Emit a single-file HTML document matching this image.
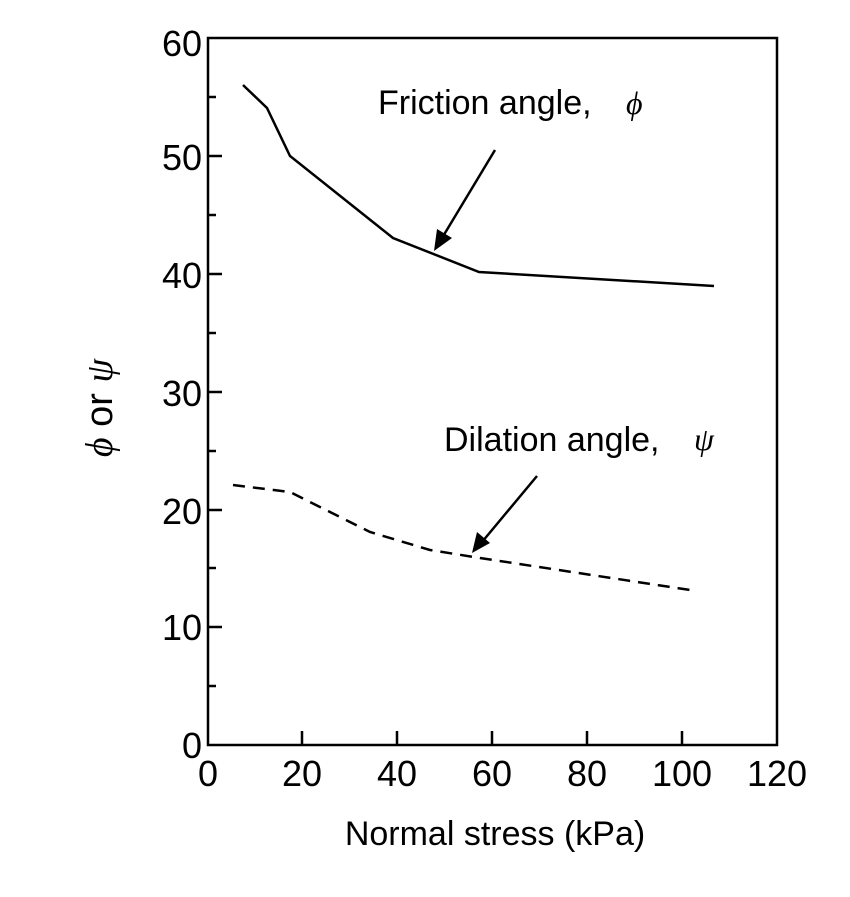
<!DOCTYPE html>
<html><head><style>body{margin:0;background:#fff}</style></head><body>
<svg width="850" height="892" xmlns="http://www.w3.org/2000/svg" font-family="Liberation Sans, sans-serif">
<rect width="850" height="892" fill="#fff"/>
<g stroke="#000" stroke-width="2.5" fill="none">
<rect x="208" y="38" width="569" height="707"/>
<path d="M208 627h14M208 510h14M208 392h14M208 274h14M208 156h14M208 686h8M208 568h8M208 451h8M208 333h8M208 215h8M208 97h8"/>
<path d="M302 745v-14M397 745v-14M492 745v-14M587 745v-14M682 745v-14"/>
<polyline points="243,85 267,108 290,156 393,238 479,272 714,286"/>
<polyline stroke-dasharray="12,8" points="233,485 290,492 330,512 370,532 430,550 480,558 690,590"/>
<line x1="495" y1="150" x2="442" y2="238"/>
<line x1="537" y1="476" x2="482" y2="542"/>
</g>
<polygon points="434,251 437,229 452,238" fill="#000"/>
<polygon points="472,553 477,532 490,543" fill="#000"/>
<g fill="#000">
<g font-size="36" text-anchor="end"><text x="202" y="56">60</text><text x="202" y="170">50</text><text x="202" y="288">40</text><text x="202" y="406">30</text><text x="202" y="524">20</text><text x="202" y="640">10</text><text x="202" y="758">0</text></g>
<g font-size="36" text-anchor="middle"><text x="208" y="786">0</text><text x="302" y="786">20</text><text x="397" y="786">40</text><text x="492" y="786">60</text><text x="587" y="786">80</text><text x="682" y="786">100</text><text x="777" y="786">120</text></g>
<text x="495" y="845" font-size="34" text-anchor="middle">Normal stress (kPa)</text>
<text x="378" y="114" font-size="34">Friction angle,</text><text x="626" y="114" font-size="32" font-family="Liberation Serif, serif" font-style="italic">ϕ</text>
<text x="444" y="451" font-size="34">Dilation angle,</text><text x="694" y="450" font-size="32" font-family="Liberation Serif, serif" font-style="italic">ψ</text>
<text transform="translate(112,408) rotate(-90)" font-size="38" text-anchor="middle"><tspan font-family="Liberation Serif, serif" font-style="italic">ϕ</tspan> or <tspan font-family="Liberation Serif, serif" font-style="italic">ψ</tspan></text>
</g>
</svg>
</body></html>
